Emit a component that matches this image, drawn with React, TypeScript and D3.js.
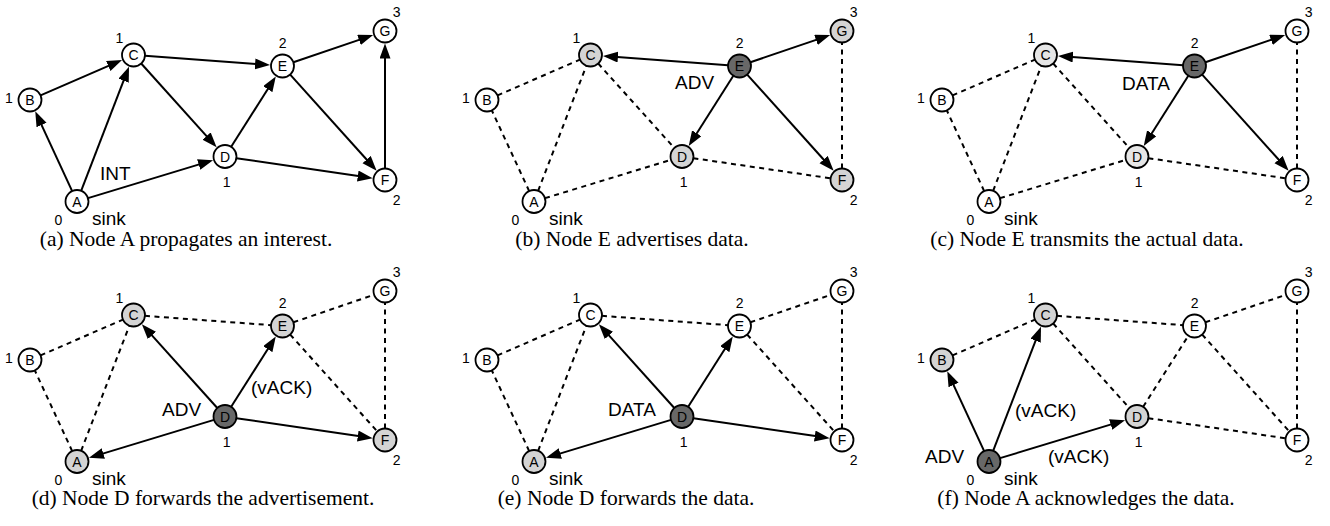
import React, { useRef, useEffect } from "react";
import * as d3 from "d3";

// network: node ids, coordinates (panel-local), hop counts
const NODES = ["A", "B", "C", "D", "E", "F", "G"];
const NODE_X = [77, 30, 133.5, 225, 282.5, 385, 385];
const NODE_Y = [201.5, 100, 55, 156.5, 66, 180, 31];
const HOPS = [0, 1, 1, 1, 2, 2, 3];

const EDGES = [
  "A-B", "A-C", "A-D", "B-C", "C-D", "C-E", "D-E", "D-F", "E-F", "E-G", "F-G",
];

const CAPTIONS = [
  "(a) Node A propagates an interest.",
  "(b) Node E advertises data.",
  "(c) Node E transmits the actual data.",
  "(d) Node D forwards the advertisement.",
  "(e) Node D forwards the data.",
  "(f) Node A acknowledges the data.",
];

// directed (solid) links per panel; every other link is drawn dashed
const ARROWS = [
  ["A>B", "A>C", "A>D", "B>C", "C>E", "C>D", "D>E", "D>F", "E>G", "E>F", "F>G"],
  ["E>C", "E>G", "E>D", "E>F"],
  ["E>C", "E>G", "E>D", "E>F"],
  ["D>C", "D>E", "D>A", "D>F"],
  ["D>C", "D>E", "D>A", "D>F"],
  ["A>B", "A>C", "A>D"],
];

// node state per panel, in NODES order: w = idle, g = grey, l = light, d = sender
const STATES = ["wwwwwww", "wwggdgg", "wwlldww", "gwgdggw", "gwwdwww", "dgggwww"];

const MESSAGES = [
  ["INT"],
  ["ADV"],
  ["DATA"],
  ["ADV", "(vACK)"],
  ["DATA"],
  ["ADV", "(vACK)", "(vACK)"],
];

// ---- layout / style ----
const FILL: Record<string, string> = {
  w: "#ffffff",
  g: "#d4d4d4",
  l: "#e6e6e6",
  d: "#686868",
};
const PANEL_X = [0, 457, 912];
const PANEL_Y = [0, 260];
const CAPTION_CX = [186, 175, 175, 203, 169, 174];
const MSG_POS = [
  [[100, 180]],
  [[218, 88.5]],
  [[210, 89.5]],
  [[162, 156], [251, 133.5]],
  [[151, 156]],
  [[13, 203], [103, 157], [136, 203]],
];
const HOP_POS = [
  [58.3, 220], [9, 98], [119.3, 38.3], [226.7, 181.7],
  [282.7, 43.3], [396.7, 200], [396.7, 11.7],
];
const R = 11.5;
const SANS = "'Liberation Sans', Arial, Helvetica, sans-serif";
const SERIF = "'Liberation Serif', 'Times New Roman', serif";

export default function App() {
  const ref = useRef<SVGSVGElement>(null);

  useEffect(() => {
    document.body.style.margin = "0";
    if (!ref.current) return;
    const svg = d3.select(ref.current);
    svg.selectAll("*").remove();

    svg
      .append("defs")
      .append("marker")
      .attr("id", "arrow")
      .attr("markerUnits", "userSpaceOnUse")
      .attr("markerWidth", 16)
      .attr("markerHeight", 12)
      .attr("refX", 4)
      .attr("refY", 5.5)
      .attr("orient", "auto")
      .append("path")
      .attr("d", "M0,0 L15,5.5 L0,11 Z")
      .attr("fill", "#000");

    const idx = (n: string) => NODES.indexOf(n);

    CAPTIONS.forEach((caption, p) => {
      const ox = PANEL_X[p % 3];
      const oy = PANEL_Y[Math.floor(p / 3)];
      const x = d3.scaleLinear().domain([0, 420]).range([ox, ox + 420]);
      const y = d3.scaleLinear().domain([0, 260]).range([oy, oy + 260]);
      const g = svg.append("g");

      const arrows = ARROWS[p].map((a) => a.split(">"));
      const isArrow = (u: string, v: string) =>
        arrows.some(([s, t]) => (s === u && t === v) || (s === v && t === u));

      // dashed links
      EDGES.map((e) => e.split("-"))
        .filter(([u, v]) => !isArrow(u, v))
        .forEach(([u, v]) => {
          const x1 = x(NODE_X[idx(u)]), y1 = y(NODE_Y[idx(u)]);
          const x2 = x(NODE_X[idx(v)]), y2 = y(NODE_Y[idx(v)]);
          const len = Math.hypot(x2 - x1, y2 - y1);
          const ux = (x2 - x1) / len, uy = (y2 - y1) / len;
          g.append("line")
            .attr("x1", x1 + ux * R)
            .attr("y1", y1 + uy * R)
            .attr("x2", x2 - ux * R)
            .attr("y2", y2 - uy * R)
            .attr("stroke", "#000")
            .attr("stroke-width", 2)
            .attr("stroke-dasharray", "5,4.5");
        });

      // directed links
      arrows.forEach(([s, t]) => {
        const x1 = x(NODE_X[idx(s)]), y1 = y(NODE_Y[idx(s)]);
        const x2 = x(NODE_X[idx(t)]), y2 = y(NODE_Y[idx(t)]);
        const len = Math.hypot(x2 - x1, y2 - y1);
        const ux = (x2 - x1) / len, uy = (y2 - y1) / len;
        g.append("line")
          .attr("x1", x1 + ux * R)
          .attr("y1", y1 + uy * R)
          .attr("x2", x2 - ux * (R + 12))
          .attr("y2", y2 - uy * (R + 12))
          .attr("stroke", "#000")
          .attr("stroke-width", 2)
          .attr("marker-end", "url(#arrow)");
      });

      // nodes
      const nodes = g
        .selectAll("g.node")
        .data(NODES)
        .enter()
        .append("g")
        .attr("class", "node")
        .attr("transform", (_, i) => `translate(${x(NODE_X[i])},${y(NODE_Y[i])})`);
      nodes
        .append("circle")
        .attr("r", R)
        .attr("fill", (_, i) => FILL[STATES[p][i]])
        .attr("stroke", "#000")
        .attr("stroke-width", 1.8);
      nodes
        .append("text")
        .attr("text-anchor", "middle")
        .attr("dy", "0.36em")
        .attr("font-family", SANS)
        .attr("font-size", 14)
        .text((d) => d);

      // hop counts
      g.selectAll("text.hop")
        .data(HOPS)
        .enter()
        .append("text")
        .attr("class", "hop")
        .attr("x", (_, i) => x(HOP_POS[i][0]))
        .attr("y", (_, i) => y(HOP_POS[i][1]) + 5)
        .attr("text-anchor", "middle")
        .attr("font-family", SANS)
        .attr("font-size", 14)
        .text((d) => d);

      // sink
      g.append("text")
        .attr("x", x(NODE_X[0] + 15))
        .attr("y", y(NODE_Y[0] + 23.5))
        .attr("font-family", SANS)
        .attr("font-size", 19)
        .text("sink");

      // message labels
      MESSAGES[p].forEach((m, k) => {
        g.append("text")
          .attr("x", x(MSG_POS[p][k][0]))
          .attr("y", y(MSG_POS[p][k][1]))
          .attr("font-family", SANS)
          .attr("font-size", 19)
          .text(m);
      });

      // caption
      g.append("text")
        .attr("x", x(CAPTION_CX[p]))
        .attr("y", y(p < 3 ? 245.5 : 244.5))
        .attr("text-anchor", "middle")
        .attr("font-family", SERIF)
        .attr("font-size", 21.5)
        .text(caption);
    });
  }, []);

  return <svg ref={ref} width={1330} height={526} style={{ display: "block" }} />;
}
